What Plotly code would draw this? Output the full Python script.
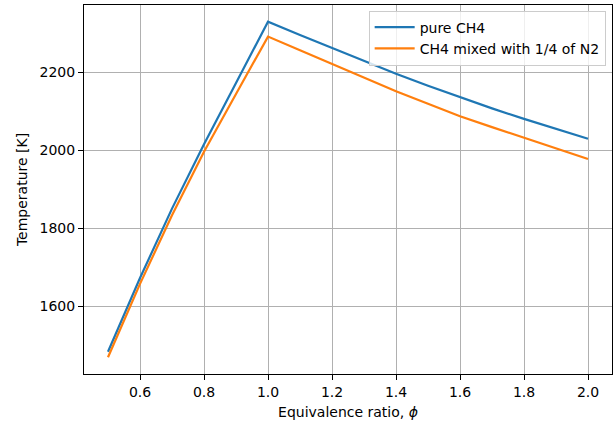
import plotly.graph_objects as go

# Equivalence ratio grid
phi = [0.5, 0.6, 0.7, 0.8, 0.9, 1.0, 1.1, 1.2, 1.3, 1.4, 1.5, 1.6, 1.7, 1.8, 1.9, 2.0]

# Adiabatic flame temperature [K]
t_pure_ch4 = [1484, 1673, 1851, 2016, 2173, 2330, 2296, 2263, 2230, 2197,
              2166, 2136, 2108, 2081, 2055, 2030]
t_ch4_n2 = [1470, 1658, 1834, 1997, 2145, 2292, 2257, 2222, 2187, 2152,
            2120, 2088, 2060, 2032, 2005, 1978]

series_names = ["pure CH4", "CH4 mixed with 1/4 of N2"]
series_colors = ["#1f77b4", "#ff7f0e"]

x_ticks = [0.6, 0.8, 1.0, 1.2, 1.4, 1.6, 1.8, 2.0]
y_ticks = [1600, 1800, 2000, 2200]

fig = go.Figure()
for name, vals, col in zip(series_names, [t_pure_ch4, t_ch4_n2], series_colors):
    fig.add_trace(go.Scatter(x=phi, y=vals, mode="lines", name=name,
                             line=dict(color=col, width=2.2)))

axis_common = dict(
    showline=True, linecolor="#000000", linewidth=1, mirror=True,
    showgrid=True, gridcolor="#b0b0b0", gridwidth=1,
    ticks="outside", ticklen=5, tickwidth=1, tickcolor="#000000",
    zeroline=False, tickfont=dict(size=14, color="#000000"),
)

fig.update_layout(
    width=613, height=425,
    margin=dict(l=84, r=1, t=5, b=51),
    paper_bgcolor="white", plot_bgcolor="white",
    font=dict(family="DejaVu Sans", size=14, color="#000000"),
    xaxis=dict(range=[0.425, 2.075], tickvals=x_ticks,
               ticktext=[f"{v:.1f}" for v in x_ticks],
               title=dict(text="Equivalence ratio, <i>ϕ</i>", standoff=8,
                          font=dict(size=14)),
               **axis_common),
    yaxis=dict(range=[1427, 2373], tickvals=y_ticks,
               title=dict(text="Temperature [K]", standoff=8,
                          font=dict(size=14)),
               **axis_common),
    legend=dict(x=0.988, y=0.985, xanchor="right", yanchor="top",
                bgcolor="rgba(255,255,255,0.8)", bordercolor="#cccccc",
                borderwidth=1, font=dict(size=14), tracegroupgap=0,
                itemwidth=40),
    showlegend=True,
)

fig.write_html("out.html")
